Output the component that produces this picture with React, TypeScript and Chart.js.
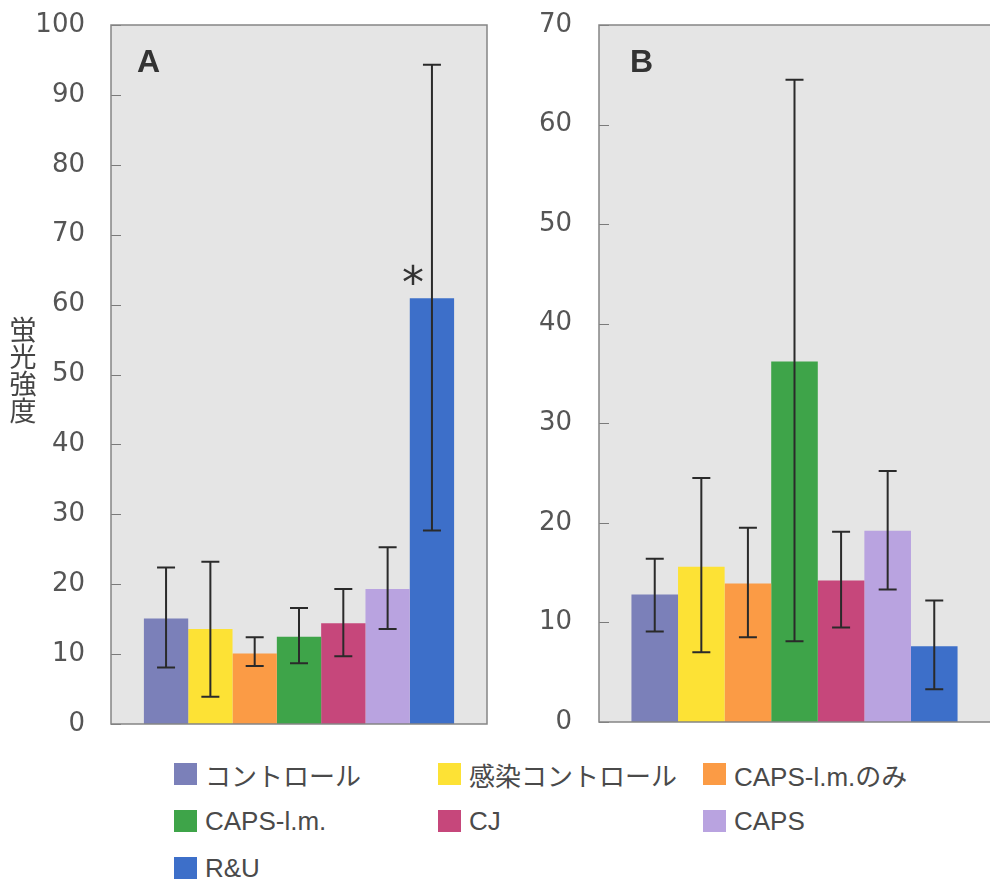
import React, { useEffect, useRef } from 'react';
import { Chart, registerables } from 'chart.js';

Chart.register(...registerables);

// ---- data ----
const seriesNames = ['コントロール', '感染コントロール', 'CAPS-l.m.のみ', 'CAPS-l.m.', 'CJ', 'CAPS', 'R&U'];
const seriesColors = ['#7b80b9', '#fde235', '#fb9b45', '#3ea449', '#c6477b', '#b9a3e0', '#3d6fc9'];
const groupLabels = [''];

const panelAMeans = [15.1, 13.6, 10.1, 12.5, 14.4, 19.3, 60.9];
const panelAUpper = [22.4, 23.2, 12.4, 16.6, 19.3, 25.3, 94.3];
const panelALower = [8.1, 3.9, 8.3, 8.7, 9.7, 13.6, 27.7];
const panelAStars = [false, false, false, false, false, false, true];

const panelBMeans = [12.8, 15.6, 13.9, 36.2, 14.2, 19.2, 7.6];
const panelBUpper = [16.4, 24.5, 19.5, 64.5, 19.1, 25.2, 12.2];
const panelBLower = [9.1, 7.0, 8.5, 8.1, 9.5, 13.3, 3.3];
const panelBStars = [false, false, false, false, false, false, false];

const panelAMax = 100;
const panelBMax = 70;
const tickStep = 10;
const yAxisTitle = '蛍光強度';

type PanelProps = {
  letter: string;
  means: number[];
  upper: number[];
  lower: number[];
  stars: boolean[];
  yMax: number;
  axisWidth: number;
  padRight: number;
  padBottom: number;
  catPct: number;
  letterOffset: number;
  labelPad: number;
  closedRight: boolean;
  showTitle: boolean;
  left: number;
};

function Panel(p: PanelProps) {
  const ref = useRef<HTMLCanvasElement>(null);
  useEffect(() => {
    if (!ref.current) return;
    const deco = {
      id: 'panelDeco',
      beforeDatasetsDraw(chart: any) {
        const { ctx, chartArea: a } = chart;
        ctx.save();
        ctx.fillStyle = '#e5e5e5';
        ctx.fillRect(a.left, a.top, a.right - a.left, a.bottom - a.top);
        const ys = chart.scales.y;
        ctx.strokeStyle = '#7a7a7a';
        ctx.lineWidth = 1;
        ys.ticks.forEach((t: any) => {
          const y = Math.round(ys.getPixelForValue(t.value)) + 0.5;
          ctx.beginPath();
          ctx.moveTo(a.left, y);
          ctx.lineTo(a.left + 10, y);
          ctx.stroke();
        });
        ctx.restore();
      },
      afterDatasetsDraw(chart: any) {
        const { ctx, chartArea: a } = chart;
        const ys = chart.scales.y;
        ctx.save();
        // frame
        ctx.strokeStyle = '#858585';
        ctx.lineWidth = 1.5;
        ctx.beginPath();
        if (p.closedRight) {
          ctx.rect(a.left, a.top, a.right - a.left, a.bottom - a.top);
        } else {
          ctx.moveTo(chart.width, a.top);
          ctx.lineTo(a.left, a.top);
          ctx.lineTo(a.left, a.bottom);
          ctx.lineTo(chart.width, a.bottom);
        }
        ctx.stroke();
        // error bars
        ctx.strokeStyle = '#2a2a2a';
        ctx.lineWidth = 2;
        p.means.forEach((_, i) => {
          const bar = chart.getDatasetMeta(i).data[0];
          const x = bar.x;
          const yh = ys.getPixelForValue(p.upper[i]);
          const yl = ys.getPixelForValue(p.lower[i]);
          ctx.beginPath();
          ctx.moveTo(x, yh);
          ctx.lineTo(x, yl);
          ctx.moveTo(x - 9, yh);
          ctx.lineTo(x + 9, yh);
          ctx.moveTo(x - 9, yl);
          ctx.lineTo(x + 9, yl);
          ctx.stroke();
          if (p.stars[i]) {
            ctx.fillStyle = '#333';
            ctx.font = '44px "DejaVu Sans"';
            ctx.textAlign = 'center';
            ctx.textBaseline = 'middle';
            ctx.fillText('*', x - 19, bar.y - 12);
          }
        });
        // panel letter
        ctx.fillStyle = '#333';
        ctx.font = 'bold 32px "Liberation Sans"';
        ctx.textAlign = 'left';
        ctx.textBaseline = 'middle';
        ctx.fillText(p.letter, a.left + p.letterOffset, 63);
        // y axis title (upright, stacked)
        if (p.showTitle) {
          ctx.font = '27px "Noto Sans CJK JP"';
          ctx.fillStyle = '#444';
          ctx.textAlign = 'center';
          const chars = Array.from(yAxisTitle);
          const mid = (a.top + a.bottom) / 2 - 4;
          chars.forEach((c, k) => {
            ctx.fillText(c, 23, mid + (k - (chars.length - 1) / 2) * 27);
          });
        }
        ctx.restore();
      },
    };
    const chart = new Chart(ref.current, {
      type: 'bar',
      data: {
        labels: groupLabels,
        datasets: seriesNames.map((name, i) => ({
          label: name,
          data: [p.means[i]],
          backgroundColor: seriesColors[i],
          borderWidth: 0,
          categoryPercentage: p.catPct,
          barPercentage: 1,
        })),
      },
      options: {
        responsive: false,
        animation: false,
        layout: { padding: { top: 25, left: 0, right: p.padRight, bottom: p.padBottom } },
        plugins: { legend: { display: false }, tooltip: { enabled: false } },
        scales: {
          x: { display: false },
          y: {
            min: 0,
            max: p.yMax,
            afterFit: (s: any) => {
              s.width = p.axisWidth;
              s.paddingTop = 16;
              s.paddingBottom = 16;
            },
            ticks: {
              stepSize: tickStep,
              padding: p.labelPad,
              color: '#555',
              font: { family: '"DejaVu Sans"', size: 26 },
            },
            grid: { display: false, drawTicks: false },
            border: { display: false },
          },
        },
      },
      plugins: [deco],
    } as any);
    return () => chart.destroy();
  }, []);
  return (
    <canvas
      ref={ref}
      width={495}
      height={745}
      style={{ position: 'absolute', left: p.left, top: 0, width: 495, height: 745 }}
    />
  );
}

const legendCols = [174, 438, 703];
const legendRows = [763, 810, 857];

export default function App() {
  return (
    <div
      style={{
        position: 'absolute',
        left: 0,
        top: 0,
        width: 990,
        height: 885,
        background: '#ffffff',
        overflow: 'hidden',
      }}
    >
      <Panel
        letter="A"
        means={panelAMeans}
        upper={panelAUpper}
        lower={panelALower}
        stars={panelAStars}
        yMax={panelAMax}
        axisWidth={111}
        padRight={8}
        padBottom={21}
        catPct={0.825}
        letterOffset={26}
        labelPad={26}
        closedRight={true}
        showTitle={true}
        left={0}
      />
      <Panel
        letter="B"
        means={panelBMeans}
        upper={panelBUpper}
        lower={panelBLower}
        stars={panelBStars}
        yMax={panelBMax}
        axisWidth={104}
        padRight={0}
        padBottom={23}
        catPct={0.834}
        letterOffset={31}
        labelPad={27}
        closedRight={false}
        showTitle={false}
        left={495}
      />
      {seriesNames.map((name, i) => {
        const col = i % 3;
        const row = Math.floor(i / 3);
        return (
          <div
            key={name}
            style={{
              position: 'absolute',
              left: legendCols[col],
              top: legendRows[row],
              height: 22,
              display: 'flex',
              alignItems: 'center',
              whiteSpace: 'nowrap',
              font: '26px "Liberation Sans", "Noto Sans CJK JP", sans-serif',
              color: '#4a4a4a',
            }}
          >
            <span
              style={{
                display: 'inline-block',
                width: 23,
                height: 22,
                background: seriesColors[i],
                marginRight: 8,
              }}
            />
            <span>{name}</span>
          </div>
        );
      })}
    </div>
  );
}
